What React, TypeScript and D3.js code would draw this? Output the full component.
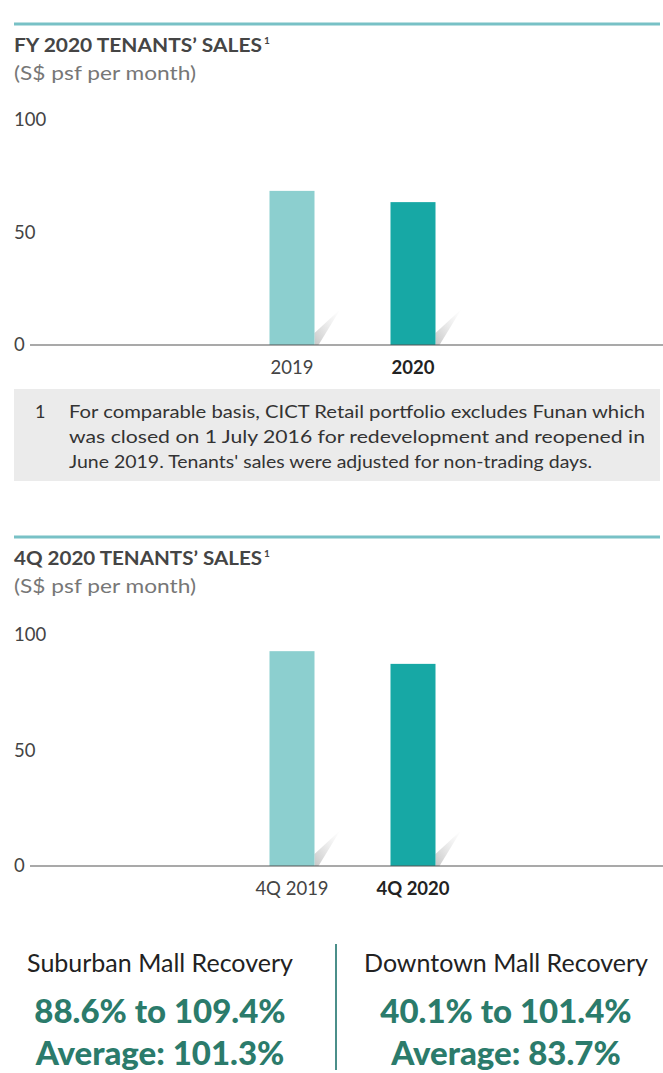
import React from 'react';
import * as d3 from 'd3';

// FY chart
const fyCategories = ['2019', '2020'];
const fyValues = [68.5, 63.5];
// 4Q chart
const qCategories = ['4Q 2019', '4Q 2020'];
const qValues = [93, 87.5];
const yTicks = [0, 50, 100];

const barColors = ['#8ccfcf', '#17a8a5'];

const footnoteLines = [
  'For comparable basis, CICT Retail portfolio excludes Funan which',
  'was closed on 1 July 2016 for redevelopment and reopened in',
  "June 2019. Tenants' sales were adjusted for non-trading days.",
];
const footnoteWidths = [576, 576, 523];

const recoveryTitles = ['Suburban Mall Recovery', 'Downtown Mall Recovery'];
const recoveryRanges = ['88.6% to 109.4%', '40.1% to 101.4%'];
const recoveryAverages = ['Average: 101.3%', 'Average: 83.7%'];

const FONT = 'Lato, "Open Sans", sans-serif';

const BarChart = ({ top, title, categories, values, yTop, yZero }) => {
  const y = d3.scaleLinear().domain([0, 100]).range([yZero, yTop]);
  const x = d3.scalePoint().domain(categories).range([292, 413]);
  const barW = 45;

  return (
    <g>
      <line x1={14} x2={660} y1={top} y2={top} stroke="#78c1c6" strokeWidth={3} />
      <text x={14} y={top + 28} fontFamily={FONT} fontSize={18.5} fontWeight={700} fill="#454545" textLength={248} lengthAdjust="spacingAndGlyphs">
        {title}
      </text>
      <text x={264} y={top + 20} fontFamily={FONT} fontSize={10} fontWeight={700} fill="#454545">1</text>
      <text x={14} y={top + 56} fontFamily={FONT} fontSize={19} fill="#777" textLength={182} lengthAdjust="spacingAndGlyphs">
        (S$ psf per month)
      </text>
      {yTicks.map((t) => (
        <text key={t} x={14} y={y(t) + 6} fontFamily={FONT} fontSize={18.5} fill="#444">
          {t}
        </text>
      ))}
      <defs>
        <linearGradient id={`sh${top}`} x1="0" y1="1" x2="1" y2="0">
          <stop offset="0" stopColor="#999" stopOpacity={0.55} />
          <stop offset="1" stopColor="#ccc" stopOpacity={0} />
        </linearGradient>
      </defs>
      {categories.map((c, i) => {
        const x0 = x(c) - barW / 2;
        return (
          <g key={c}>
            <polygon
              points={`${x0 + barW},${yZero} ${x0 + barW},${yZero - 12} ${x0 + barW + 26},${yZero - 36} ${x0 + barW + 4},${yZero}`}
              fill={`url(#sh${top})`}
            />
            <rect x={x0} y={y(values[i])} width={barW} height={yZero - y(values[i])} fill={barColors[i]} />
          </g>
        );
      })}
      <line x1={30} x2={663} y1={yZero} y2={yZero} stroke="#555" strokeWidth={1.2} />
      {categories.map((c, i) => (
        <text
          key={c}
          x={x(c)}
          y={yZero + 29}
          textAnchor="middle"
          fontFamily={FONT}
          fontSize={18.5}
          fontWeight={i === 1 ? 700 : 400}
          fill={i === 1 ? '#222' : '#444'}
        >
          {c}
        </text>
      ))}
    </g>
  );
};

export default function App() {
  return (
    <div style={{ position: 'absolute', left: 0, top: 0 }}>
      <svg width={663} height={1073} style={{ display: 'block', background: '#fff' }}>
        <BarChart
          top={24}
          title="FY 2020 TENANTS’ SALES"
          categories={fyCategories}
          values={fyValues}
          yTop={120}
          yZero={345}
        />
        <rect x={14} y={389} width={646} height={92} fill="#ebebeb" />
        <text x={35} y={418} fontFamily={FONT} fontSize={18} fill="#333">1</text>
        {footnoteLines.map((l, i) => (
          <text
            key={i}
            x={69}
            y={418 + i * 25}
            fontFamily={FONT}
            fontSize={18}
            fill="#333"
            textLength={footnoteWidths[i]}
            lengthAdjust="spacingAndGlyphs"
          >
            {l}
          </text>
        ))}
        <BarChart
          top={537}
          title="4Q 2020 TENANTS’ SALES"
          categories={qCategories}
          values={qValues}
          yTop={635}
          yZero={866}
        />
        <line x1={336} x2={336} y1={944} y2={1070} stroke="#4b8f8a" strokeWidth={2} />
        {recoveryTitles.map((t, i) => {
          const cx = i === 0 ? 160 : 506;
          return (
            <g key={t}>
              <text x={cx} y={972} textAnchor="middle" fontFamily={FONT} fontSize={25} fill="#222">
                {t}
              </text>
              <text x={cx} y={1023} textAnchor="middle" fontFamily={FONT} fontSize={33} fontWeight={900} fill="#2b7b6b">
                {recoveryRanges[i]}
              </text>
              <text x={cx} y={1065} textAnchor="middle" fontFamily={FONT} fontSize={33} fontWeight={900} fill="#2b7b6b">
                {recoveryAverages[i]}
              </text>
            </g>
          );
        })}
      </svg>
    </div>
  );
}
